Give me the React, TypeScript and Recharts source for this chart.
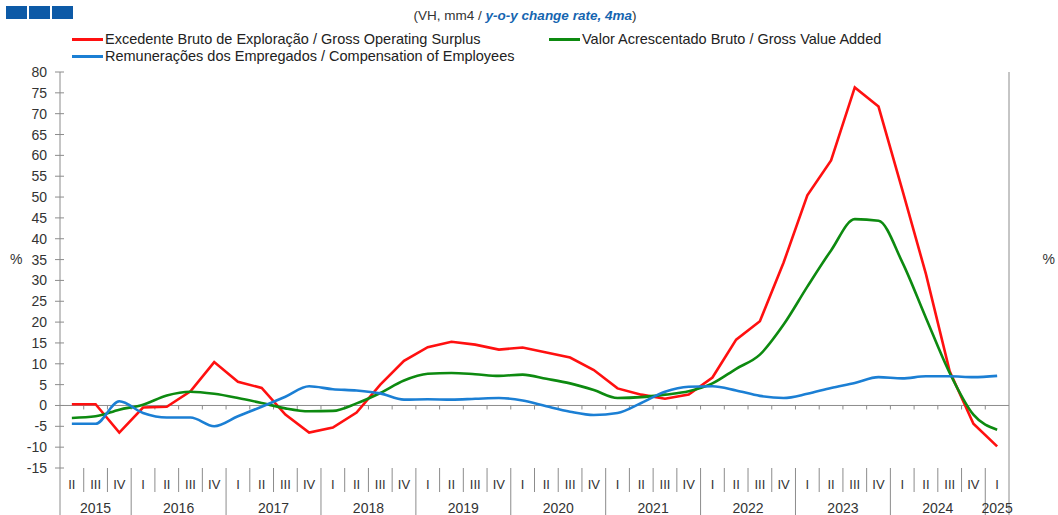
import React from 'react'
import { LineChart, Line, XAxis, YAxis, ReferenceLine, Legend } from 'recharts'

const quarters = [
  'II', 'III', 'IV',
  'I', 'II', 'III', 'IV',
  'I', 'II', 'III', 'IV',
  'I', 'II', 'III', 'IV',
  'I', 'II', 'III', 'IV',
  'I', 'II', 'III', 'IV',
  'I', 'II', 'III', 'IV',
  'I', 'II', 'III', 'IV',
  'I', 'II', 'III', 'IV',
  'I', 'II', 'III', 'IV',
  'I',
]

const years = [
  2015, 2015, 2015,
  2016, 2016, 2016, 2016,
  2017, 2017, 2017, 2017,
  2018, 2018, 2018, 2018,
  2019, 2019, 2019, 2019,
  2020, 2020, 2020, 2020,
  2021, 2021, 2021, 2021,
  2022, 2022, 2022, 2022,
  2023, 2023, 2023, 2023,
  2024, 2024, 2024, 2024,
  2025,
]

// Excedente Bruto de Exploração / Gross Operating Surplus
const gos = [
  0.3, 0.3, -6.5,
  -0.5, -0.3, 3.4, 10.4,
  5.7, 4.2, -2.2, -6.5,
  -5.3, -1.7, 5.0, 10.7,
  14.0, 15.3, 14.6, 13.4,
  13.9, 12.7, 11.5, 8.5,
  4.1, 2.6, 1.6, 2.6,
  6.7, 15.8, 20.2, 34.3,
  50.4, 58.8, 76.3, 71.7,
  51.8, 31.5, 8.2, -4.4,
  -9.8,
]

// Valor Acrescentado Bruto / Gross Value Added
const gva = [
  -3.0, -2.6, -1.0,
  0.2, 2.4, 3.3, 2.8,
  1.8, 0.6, -0.7, -1.4,
  -1.3, 0.5, 3.0, 6.0,
  7.6, 7.8, 7.5, 7.1,
  7.4, 6.4, 5.3, 3.7,
  1.8, 2.0, 2.6, 3.4,
  5.3, 8.8, 12.2, 19.4,
  28.5, 37.2, 44.7, 44.3,
  34.4, 21.0, 7.8, -2.2,
  -5.8,
]

// Remunerações dos Empregados / Compensation of Employees
const coe = [
  -4.4, -4.4, 1.0,
  -1.8, -2.9, -2.9, -5.0,
  -2.6, -0.3, 2.1, 4.6,
  3.9, 3.6, 2.9, 1.4,
  1.5, 1.4, 1.6, 1.8,
  1.2, -0.2, -1.5, -2.3,
  -1.8, 0.6, 3.3, 4.5,
  4.6, 3.6, 2.3, 1.8,
  2.8, 4.2, 5.4, 6.8,
  6.5, 7.0, 7.0, 6.8,
  7.1,
]

const yTicks = [-15, -10, -5, 0, 5, 10, 15, 20, 25, 30, 35, 40, 45, 50, 55, 60, 65, 70, 75, 80]

const data = quarters.map((q, i) => ({
  key: `${years[i]}-${q}`,
  q,
  year: years[i],
  gos: gos[i],
  gva: gva[i],
  coe: coe[i],
}))

const AXIS = '#8c8c8c'
const TXT = '#333'
const FONT = 'Liberation Sans, Arial, sans-serif'

const LeftTick = (props: any) => {
  const { x, y, payload } = props
  return (
    <g>
      <line x1={x - 5} x2={x + 4} y1={y} y2={y} stroke={AXIS} />
      <text x={x - 13} y={y} dy={5} textAnchor="end" fontSize={14} fill={TXT} fontFamily={FONT}>
        {payload.value}
      </text>
    </g>
  )
}

const RightTick = (props: any) => {
  const { x, y, payload } = props
  return (
    <g>
      <line x1={x - 4} x2={x + 5} y1={y} y2={y} stroke={AXIS} />
      <text x={x + 13} y={y} dy={5} textAnchor="start" fontSize={14} fill={TXT} fontFamily={FONT}>
        {payload.value}
      </text>
    </g>
  )
}

const QuarterTick = (props: any) => {
  const { x, y, payload, width, visibleTicksCount } = props
  const i = payload.index
  const bw = width && visibleTicksCount ? width / visibleTicksCount : 23.72
  const q = quarters[i]
  const yearStart = i === 0 || years[i] !== years[i - 1]
  let yearLabel = null
  if (yearStart) {
    const n = years.filter((yr) => yr === years[i]).length
    yearLabel = (
      <text x={x + ((n - 1) / 2) * bw} y={y + 45} textAnchor="middle" fontSize={14} fill={TXT} fontFamily={FONT}>
        {years[i]}
      </text>
    )
  }
  return (
    <g>
      <line x1={x - bw / 2} x2={x - bw / 2} y1={y} y2={y + (yearStart ? 47 : 24)} stroke={AXIS} />
      {i === quarters.length - 1 && (
        <line x1={x + bw / 2} x2={x + bw / 2} y1={y} y2={y + 47} stroke={AXIS} />
      )}
      <text x={x} y={y + 21} textAnchor="middle" fontSize={13} fill={TXT} fontFamily={FONT}>
        {q}
      </text>
      {yearLabel}
    </g>
  )
}

const ZeroLine = (props: any) => {
  const { x1, x2, y1 } = props
  const n = data.length
  const step = (x2 - x1) / n
  const marks = []
  for (let k = 1; k < n; k++) {
    const xx = x1 + k * step
    marks.push(<line key={k} x1={xx} x2={xx} y1={y1} y2={y1 + 4} stroke={AXIS} />)
  }
  return (
    <g>
      <line x1={x1} x2={x2} y1={y1} y2={y1} stroke={AXIS} />
      {marks}
    </g>
  )
}

const LegendBox = (props: any) => {
  const items = props.payload || []
  const find = (k: string) => items.find((p: any) => p.dataKey === k)
  const row = (p: any, w: number) =>
    p && (
      <div style={{ display: 'flex', alignItems: 'center', width: w }}>
        <span style={{ display: 'inline-block', width: 31, height: 3, background: p.color, marginRight: 2 }} />
        <span>{p.value}</span>
      </div>
    )
  return (
    <div style={{ fontFamily: FONT, fontSize: 14.5, color: '#222', lineHeight: '17px' }}>
      <div style={{ display: 'flex' }}>
        {row(find('gos'), 477)}
        {row(find('gva'), 420)}
      </div>
      {row(find('coe'), 477)}
    </div>
  )
}

export default function App() {
  return (
    <div style={{ position: 'absolute', left: 0, top: 0, width: 1058, height: 515, background: '#fff' }}>
      <div style={{ position: 'absolute', left: 6, top: 6, display: 'flex', gap: 2 }}>
        <div style={{ width: 21, height: 13, background: '#0d5aa7' }} />
        <div style={{ width: 21, height: 13, background: '#0d5aa7' }} />
        <div style={{ width: 21, height: 13, background: '#0d5aa7' }} />
      </div>
      <div
        style={{
          position: 'absolute',
          left: 0,
          width: 1050,
          top: 8,
          textAlign: 'center',
          fontFamily: FONT,
          fontSize: 13.5,
          color: '#333',
        }}
      >
        (VH, mm4 /{' '}
        <span style={{ color: '#1565b0', fontWeight: 'bold', fontStyle: 'italic' }}>y-o-y change rate, 4ma</span>)
      </div>
      <LineChart width={1058} height={515} data={data} margin={{ top: 72, right: 0, left: 0, bottom: 0 }}>
        <XAxis
          dataKey="key"
          scale="band"
          interval={0}
          height={47}
          tickSize={0}
          tickMargin={0}
          tickLine={false}
          axisLine={false}
          tick={<QuarterTick />}
        />
        <YAxis
          yAxisId="left"
          orientation="left"
          width={60}
          domain={[-15, 80]}
          ticks={yTicks}
          interval={0}
          tickSize={0}
          tickMargin={0}
          tickLine={false}
          axisLine={{ stroke: AXIS }}
          tick={<LeftTick />}
          label={{ value: '%', position: 'insideLeft', offset: 10, dy: -11, fill: TXT, fontSize: 14, fontFamily: FONT }}
        />
        <YAxis
          yAxisId="right"
          orientation="right"
          width={49}
          domain={[-15, 80]}
          ticks={yTicks}
          interval={0}
          tickSize={0}
          tickMargin={0}
          tickLine={false}
          axisLine={{ stroke: AXIS }}
          tick={<RightTick />}
          label={{ value: '%', position: 'insideRight', offset: 3, dy: -11, fill: TXT, fontSize: 14, fontFamily: FONT }}
        />
        <ReferenceLine yAxisId="left" y={0} shape={<ZeroLine />} />
        <Legend
          verticalAlign="middle"
          align="center"
          content={<LegendBox />}
          wrapperStyle={{ top: 31, left: 72, width: 920 }}
        />
        <Line
          yAxisId="left"
          dataKey="gos"
          name="Excedente Bruto de Exploração / Gross Operating Surplus"
          type="linear"
          stroke="#ff1010"
          strokeWidth={2.6}
          dot={false}
          isAnimationActive={false}
        />
        <Line
          yAxisId="left"
          dataKey="gva"
          name="Valor Acrescentado Bruto / Gross Value Added"
          type="monotone"
          stroke="#0d8a10"
          strokeWidth={2.6}
          dot={false}
          isAnimationActive={false}
        />
        <Line
          yAxisId="left"
          dataKey="coe"
          name="Remunerações dos Empregados / Compensation of Employees"
          type="monotone"
          stroke="#1b7fd4"
          strokeWidth={2.6}
          dot={false}
          isAnimationActive={false}
        />
      </LineChart>
    </div>
  )
}
